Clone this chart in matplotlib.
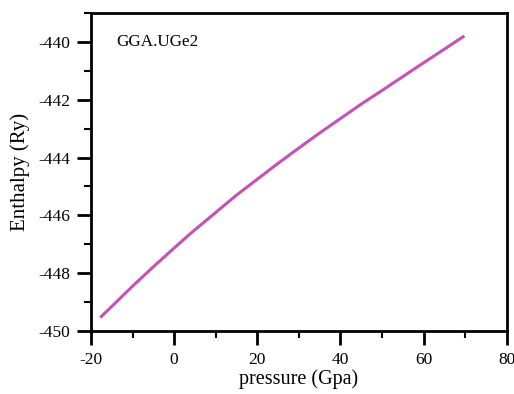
import numpy as np
import matplotlib.pyplot as plt
from matplotlib.ticker import MultipleLocator

# pressure (GPa) vs enthalpy (Ry)
pressure = [-17.5, -15, -10, -5, 0, 4, 10, 15, 20, 25, 30, 35, 40, 45, 50, 55, 60, 65, 69.5]
enthalpy = [-449.50, -449.15, -448.45, -447.78, -447.13, -446.62, -445.90, -445.30,
            -444.75, -444.20, -443.67, -443.15, -442.65, -442.15, -441.68, -441.20,
            -440.72, -440.25, -439.82]

plt.rcParams['font.family'] = ['Liberation Serif', 'DejaVu Serif']
plt.rcParams['axes.unicode_minus'] = False

fig = plt.figure(figsize=(5.14, 3.94), dpi=100)
ax = fig.add_axes([0.177, 0.160, 0.809, 0.807])

ax.plot(pressure, enthalpy, color='#c452b8', lw=2.2)

ax.set_xlim(-20, 80)
ax.set_ylim(-450, -439)
ax.xaxis.set_major_locator(MultipleLocator(20))
ax.xaxis.set_minor_locator(MultipleLocator(10))
ax.yaxis.set_major_locator(MultipleLocator(2))
ax.yaxis.set_minor_locator(MultipleLocator(1))
ax.tick_params(which='major', direction='out', length=10, width=2, labelsize=12.5, pad=5)
ax.tick_params(which='minor', direction='out', length=5, width=1.5)
ax.tick_params(top=False, right=False)
for s in ax.spines.values():
    s.set_linewidth(2)

ax.set_xlabel('pressure (Gpa)', fontsize=14.5, labelpad=1)
ax.set_ylabel('Enthalpy (Ry)', fontsize=15, labelpad=6)
ax.text(0.06, 0.91, 'GGA.UGe2', transform=ax.transAxes, fontsize=12.3, va='center')

fig.savefig('out.png', dpi=100)
